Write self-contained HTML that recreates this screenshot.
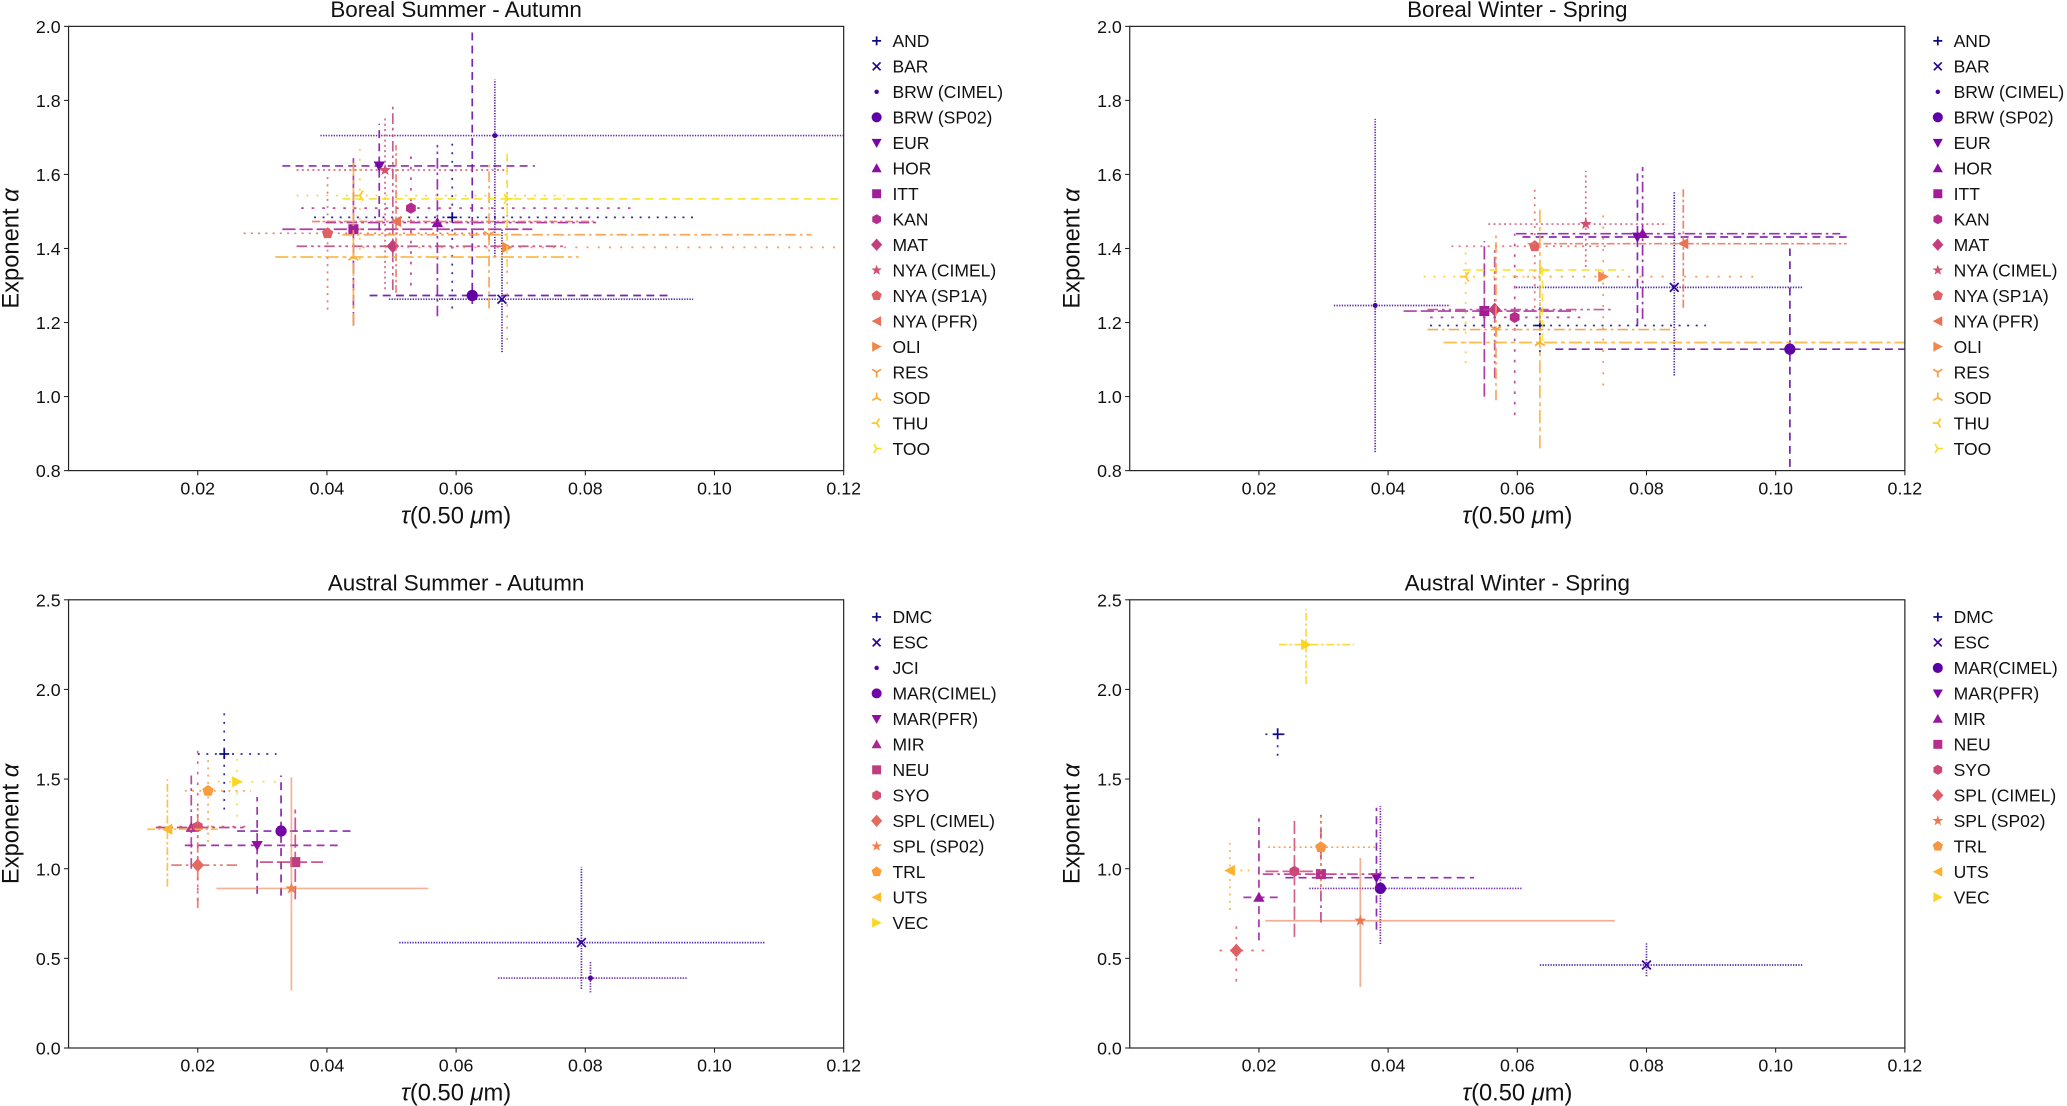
<!DOCTYPE html>
<html><head><meta charset="utf-8"><style>
html,body{margin:0;padding:0;background:#fff;}
svg{display:block;font-family:"Liberation Sans","DejaVu Sans",sans-serif;}
</style></head><body>
<svg id="fig" width="2067" height="1106" viewBox="0 0 1568 839" preserveAspectRatio="none" xmlns="http://www.w3.org/2000/svg"></svg>
<script>
// ---- data (x = tau, a = alpha, with lower/upper error limits) ----
const namesTop = ["AND","BAR","BRW (CIMEL)","BRW (SP02)","EUR","HOR","ITT","KAN","MAT","NYA (CIMEL)","NYA (SP1A)","NYA (PFR)","OLI","RES","SOD","THU","TOO"];
const markersTop = ["+","x",".","o","v","^","s","h","D","*","p","<",">","1","2","3","4"];
// Boreal Summer - Autumn
const bsX    = [0.0594,0.0671,0.0660,0.0625,0.0481,0.0571,0.0441,0.0530,0.0502,0.0490,0.0401,0.0507,0.0679,0.0651,0.0441,0.0451,0.0679];
const bsXlo  = [0.0380,0.0496,0.0390,0.0466,0.0331,0.0398,0.0331,0.0360,0.0353,0.0353,0.0271,0.0377,0.0455,0.0424,0.0320,0.0353,0.0424];
const bsXhi  = [0.0970,0.0967,0.1250,0.0931,0.0722,0.0822,0.0718,0.0870,0.0768,0.0680,0.0661,0.0818,0.1250,0.1150,0.0790,0.0768,0.1250];
const bsA    = [1.484,1.263,1.705,1.273,1.623,1.470,1.452,1.509,1.406,1.612,1.441,1.473,1.403,1.437,1.377,1.543,1.534];
const bsAlo  = [1.238,1.120,1.378,1.250,1.449,1.217,1.193,1.300,1.288,1.290,1.235,1.280,1.153,1.238,1.190,1.370,1.350];
const bsAhi  = [1.683,1.455,1.856,1.990,1.737,1.680,1.644,1.666,1.783,1.751,1.604,1.680,1.662,1.630,1.640,1.670,1.665];
// Boreal Winter - Spring
const bwX    = [0.0635,0.0843,0.0380,0.1022,0.0786,0.0794,0.0549,0.0596,0.0565,0.0706,0.0627,0.0857,0.0733,0.0567,0.0635,0.0520,0.0639];
const bwXlo  = [0.0465,0.0598,0.0316,0.0659,0.0608,0.0598,0.0424,0.0465,0.0461,0.0555,0.0498,0.0616,0.0598,0.0461,0.0486,0.0455,0.0516];
const bwXhi  = [0.0892,0.1043,0.0496,0.1250,0.1110,0.1100,0.0690,0.0698,0.0749,0.0833,0.0743,0.1110,0.0967,0.0853,0.1250,0.0629,0.0765];
const bwA    = [1.192,1.295,1.246,1.128,1.431,1.440,1.231,1.214,1.235,1.466,1.406,1.413,1.324,1.181,1.146,1.324,1.342];
const bwAlo  = [1.120,1.057,0.850,0.810,1.190,1.210,1.000,0.950,1.050,1.350,1.240,1.240,1.030,0.990,0.860,1.090,1.150];
const bwAhi  = [1.260,1.555,1.750,1.400,1.610,1.620,1.420,1.440,1.400,1.610,1.560,1.560,1.510,1.440,1.510,1.410,1.350];

const namesBL = ["DMC","ESC","JCI","MAR(CIMEL)","MAR(PFR)","MIR","NEU","SYO","SPL (CIMEL)","SPL (SP02)","TRL","UTS","VEC"];
const markersBL = ["+","x",".","o","v","^","s","h","D","*","p","<",">"];
const asX   = [0.0241,0.0794,0.0808,0.0329,0.0292,0.0190,0.0351,0.0200,0.0200,0.0345,0.0216,0.0153,0.0261];
const asXlo = [0.0200,0.0512,0.0665,0.0261,0.0180,0.0135,0.0296,0.0139,0.0159,0.0229,0.0180,0.0122,0.0231];
const asXhi = [0.0322,0.1078,0.0959,0.0441,0.0420,0.0271,0.0394,0.0286,0.0261,0.0557,0.0282,0.0231,0.0322];
const asA   = [1.640,0.588,0.390,1.210,1.130,1.230,1.037,1.235,1.020,0.890,1.434,1.220,1.485];
const asAlo = [1.330,0.330,0.310,0.850,0.860,1.000,0.830,0.820,0.780,0.320,1.150,0.900,1.290];
const asAhi = [1.870,1.010,0.480,1.520,1.400,1.520,1.330,1.660,1.360,1.510,1.610,1.500,1.640];

const namesBR = ["DMC","ESC","MAR(CIMEL)","MAR(PFR)","MIR","NEU","SYO","SPL (CIMEL)","SPL (SP02)","TRL","UTS","VEC"];
const markersBR = ["+","x","o","v","^","s","h","D","*","p","<",">"];
const awX   = [0.0229,0.0800,0.0388,0.0382,0.0200,0.0296,0.0255,0.0165,0.0357,0.0296,0.0155,0.0273];
const awXlo = [0.0210,0.0635,0.0278,0.0241,0.0176,0.0206,0.0210,0.0139,0.0210,0.0214,0.0149,0.0231];
const awXhi = [0.0247,0.1043,0.0608,0.0533,0.0231,0.0384,0.0292,0.0210,0.0751,0.0380,0.0190,0.0347];
const awA   = [1.750,0.463,0.890,0.950,0.840,0.970,0.985,0.544,0.710,1.120,0.990,2.250];
const awAlo = [1.630,0.400,0.580,0.660,0.600,0.700,0.620,0.370,0.340,0.870,0.770,2.030];
const awAhi = [1.810,0.590,1.350,1.340,1.280,1.300,1.290,0.680,1.060,1.310,1.170,2.450];

const xTicks = [0.02,0.04,0.06,0.08,0.10,0.12];
const xTickLabels = ["0.02","0.04","0.06","0.08","0.10","0.12"];
const yTicksTop = [0.8,1.0,1.2,1.4,1.6,1.8,2.0];
const yTicksBot = [0.0,0.5,1.0,1.5,2.0,2.5];

const NS="http://www.w3.org/2000/svg";
const fig=document.getElementById('fig');
function mk(tag,attrs,parent){const e=document.createElementNS(NS,tag);for(const k in attrs)e.setAttribute(k,attrs[k]);(parent||fig).appendChild(e);return e;}

const stops=[[13,8,135],[65,4,157],[106,0,168],[143,13,164],[177,42,144],[204,71,120],[225,100,98],[242,132,75],[252,166,54],[252,206,37],[240,249,33]];
function plasma(t){t=Math.max(0,Math.min(1,t));const p=t*10,i=Math.min(9,Math.floor(p)),f=p-i;const a=stops[i],b=stops[i+1];return 'rgb('+a.map((v,k)=>Math.round(v+(b[k]-v)*f)).join(',')+')';}
const dashes=['1.5 5','1 1','1 1','6 4','6 4','8 3 2 3','10 3','2 6','8 3 2 3 2 3','1.5 2.5','1.5 4','6 2 2 2','1.5 7','8 3 2 3','10 3 3 3','1.5 6','6 4'];

function marker(g,type,cx,cy,col,s){
  s=s||1;
  const poly=(pts)=>mk('polygon',{points:pts.map(p=>(cx+p[0]*s)+','+(cy+p[1]*s)).join(' '),fill:col},g);
  const line=(x1,y1,x2,y2)=>mk('line',{x1:cx+x1*s,y1:cy+y1*s,x2:cx+x2*s,y2:cy+y2*s,stroke:col,'stroke-width':1.3},g);
  switch(type){
    case '+':line(-4,0,4,0);line(0,-4,0,4);break;
    case 'x':line(-3.5,-3.5,3.5,3.5);line(-3.5,3.5,3.5,-3.5);break;
    case '.':mk('circle',{cx:cx,cy:cy,r:2*s,fill:col},g);break;
    case 'o':mk('circle',{cx:cx,cy:cy,r:4.5*s,fill:col},g);break;
    case 'v':poly([[-4.5,-3.5],[4.5,-3.5],[0,4.5]]);break;
    case '^':poly([[-4.5,3.5],[4.5,3.5],[0,-4.5]]);break;
    case 's':poly([[-4,-4],[4,-4],[4,4],[-4,4]]);break;
    case 'h':{const p=[];for(let k=0;k<6;k++){const an=Math.PI/6+k*Math.PI/3;p.push([4.5*Math.cos(an),4.5*Math.sin(an)]);}poly(p);break;}
    case 'D':poly([[0,-5.5],[5,0],[0,5.5],[-5,0]]);break;
    case '*':{const p=[];for(let k=0;k<10;k++){const r=k%2?2:5,an=-Math.PI/2+k*Math.PI/5;p.push([r*Math.cos(an),r*Math.sin(an)]);}poly(p);break;}
    case 'p':{const p=[];for(let k=0;k<5;k++){const an=-Math.PI/2+k*2*Math.PI/5;p.push([4.8*Math.cos(an),4.8*Math.sin(an)]);}poly(p);break;}
    case '<':poly([[4,-4.5],[4,4.5],[-4.5,0]]);break;
    case '>':poly([[-4,-4.5],[-4,4.5],[4.5,0]]);break;
    case '1':line(0,0,0,4.5);line(0,0,-4,-2.5);line(0,0,4,-2.5);break;
    case '2':line(0,0,0,-4.5);line(0,0,-4,2.5);line(0,0,4,2.5);break;
    case '3':line(0,0,-4.5,0);line(0,0,2.5,-4);line(0,0,2.5,4);break;
    case '4':line(0,0,4.5,0);line(0,0,-2.5,-4);line(0,0,-2.5,4);break;
  }
}

function panel(id,L,T,R,B,ymin,ymax,yticks,ydec,title,names,markers,X,Xlo,Xhi,A,Alo,Ahi,legOff){
  const g=mk('g',{});
  
  
  const xs=v=>L+(v-0.0)/0.12*(R-L);
  const ys=v=>B-(v-ymin)/(ymax-ymin)*(B-T);
  const cp=mk('clipPath',{id:'cp-'+id},g);mk('rect',{x:L,y:T,width:R-L,height:B-T},cp);
  const data=mk('g',{'clip-path':'url(#cp-'+id+')'},g);
  
  
  const N=names.length;
  for(let i=0;i<N;i++){
    const col=plasma(i/N);
    const s=mk('g',{},data);
    
    
    const solid = names[i]==='SPL (SP02)';
    const da=solid?'none':dashes[i%dashes.length];
    const op=solid?0.6:0.85;
    mk('line',{x1:xs(Xlo[i]),y1:ys(A[i]),x2:xs(Xhi[i]),y2:ys(A[i]),stroke:col,'stroke-width':1.3,'stroke-dasharray':da,opacity:op},s);
    mk('line',{x1:xs(X[i]),y1:ys(Alo[i]),x2:xs(X[i]),y2:ys(Ahi[i]),stroke:col,'stroke-width':1.3,'stroke-dasharray':da,opacity:op},s);
    marker(s,markers[i],xs(X[i]),ys(A[i]),col,0.95);
  }
  const fr=mk('rect',{x:L,y:T,width:R-L,height:B-T,fill:'none',stroke:'#222','stroke-width':0.9},g);
  
  
  xTicks.forEach((v,k)=>{
    mk('line',{x1:xs(v),y1:B,x2:xs(v),y2:B+3.5,stroke:'#222','stroke-width':0.8},g);
    const t=mk('text',{x:xs(v),y:B+18,'text-anchor':'middle','font-size':13.5,fill:'#111'},g);
    t.textContent=xTickLabels[k];
    
    
  });
  yticks.forEach(v=>{
    mk('line',{x1:L-3.5,y1:ys(v),x2:L,y2:ys(v),stroke:'#222','stroke-width':0.8},g);
    const t=mk('text',{x:L-6,y:ys(v)+5,'text-anchor':'end','font-size':13.5,fill:'#111'},g);
    t.textContent=v.toFixed(ydec);
    
    
  });
  const tt=mk('text',{x:(L+R)/2,y:T-7,'text-anchor':'middle','font-size':17,fill:'#111'},g);
  tt.textContent=title;
  
  
  const xl=mk('text',{x:(L+R)/2,y:B+40,'text-anchor':'middle','font-size':18,fill:'#111'},g);
  xl.innerHTML='<tspan font-style="italic">τ</tspan>(0.50 <tspan font-style="italic">μ</tspan>m)';
  
  
  const yl=mk('text',{x:0,y:0,'text-anchor':'middle','font-size':18,fill:'#111',transform:'translate('+(L-38)+','+((T+B)/2)+') rotate(-90)'},g);
  yl.innerHTML='Exponent <tspan font-style="italic">α</tspan>';
  
  
  const lg=mk('g',{},g);
  
  
  for(let i=0;i<N;i++){
    const yy=T+legOff+i*19.33;
    const e=mk('g',{},lg);
    
    
    marker(e,markers[i],R+25,yy,plasma(i/N),0.85);
    const t=mk('text',{x:R+37,y:yy+4.8,'font-size':13.3,fill:'#111'},e);
    t.textContent=names[i];
  }
}
panel('panel-boreal-summer',52,20,640,357,0.8,2.0,yTicksTop,1,'Boreal Summer - Autumn',namesTop,markersTop,bsX,bsXlo,bsXhi,bsA,bsAlo,bsAhi,11);
panel('panel-boreal-winter',857,20,1445,357,0.8,2.0,yTicksTop,1,'Boreal Winter - Spring',namesTop,markersTop,bwX,bwXlo,bwXhi,bwA,bwAlo,bwAhi,11);
panel('panel-austral-summer',52,455,640,795,0.0,2.5,yTicksBot,1,'Austral Summer - Autumn',namesBL,markersBL,asX,asXlo,asXhi,asA,asAlo,asAhi,13);
panel('panel-austral-winter',857,455,1445,795,0.0,2.5,yTicksBot,1,'Austral Winter - Spring',namesBR,markersBR,awX,awXlo,awXhi,awA,awAlo,awAhi,13);
</script>
</body></html>
